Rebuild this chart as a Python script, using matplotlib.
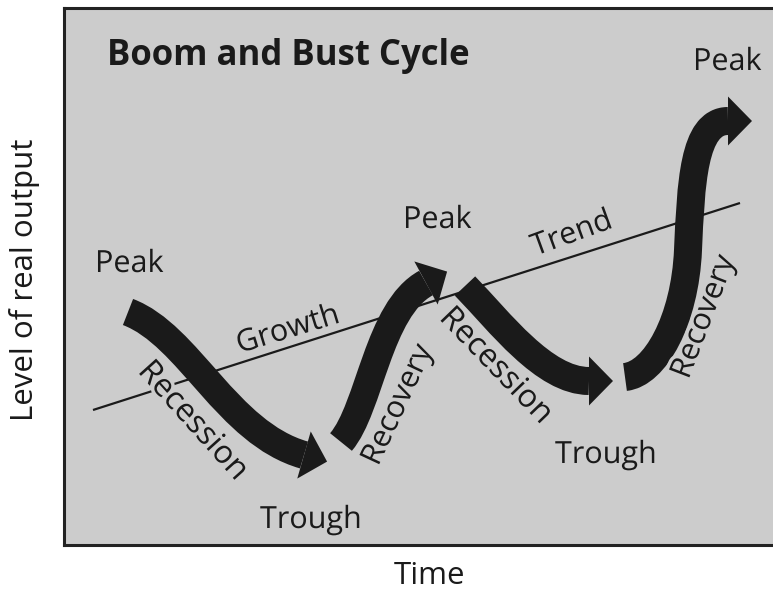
import numpy as np
import matplotlib
matplotlib.use("Agg")
import matplotlib.pyplot as plt
from matplotlib.path import Path
from matplotlib.patches import PathPatch, Polygon
import matplotlib.patheffects as pe

# ---- data (schematic coordinates: x = time, y = level drawn downward) ----
trend_x = [93, 740]
trend_y = [410, 203]

# cubic Bezier control points of each cycle arrow (3n+1 points)
rec1_x = [128, 189, 227, 304]
rec1_y = [312, 335, 433, 455]
recov1_x = [341, 370, 378, 426]
recov1_y = [442, 408, 309, 283]
rec2_x = [465, 500, 544, 589]
rec2_y = [286, 322, 381, 381]
recov2_x = [625, 655, 685, 688, 691, 693, 728]
recov2_y = [377, 374, 320, 250, 185, 121, 121]

arrows = [(rec1_x, rec1_y), (recov1_x, recov1_y), (rec2_x, rec2_y), (recov2_x, recov2_y)]

# labels: text, x, y, rotation, ha, va, size
labels = [
    ("Peak", 95, 272, 0, "left", "baseline", 22),
    ("Peak", 403, 228, 0, "left", "baseline", 22),
    ("Peak", 693, 70, 0, "left", "baseline", 22),
    ("Trough", 260, 528, 0, "left", "baseline", 22),
    ("Trough", 555, 463, 0, "left", "baseline", 22),
    ("Growth", 288, 330, 17, "center", "center", 22),
    ("Trend", 572, 234, 20, "center", "center", 22),
    ("Recession", 193, 421, -48, "center", "center", 23),
    ("Recovery", 398, 405, 65, "center", "center", 22),
    ("Recession", 496, 366, -46, "center", "center", 23),
    ("Recovery", 704, 317, 69, "center", "center", 22),
]

title = "Boom and Bust Cycle"
xlabel = "Time"
ylabel = "Level of real output"

BG = "#cccccc"
INK = "#1a1a1a"
FONT = "Open Sans"

W, H = 773, 593
fig = plt.figure(figsize=(W / 100, H / 100), dpi=100)
left, right, top, bottom = 64, 776, 8, 545
ax = fig.add_axes([left / W, 1 - bottom / H, (right - left) / W, (bottom - top) / H])
ax.set_xlim(left, right)
ax.set_ylim(bottom, top)
ax.set_facecolor(BG)
ax.set_xticks([])
ax.set_yticks([])
for s in ax.spines.values():
    s.set_linewidth(2.2)
    s.set_color("#222222")

# trend line
ax.plot(trend_x, trend_y, color=INK, lw=1.6, solid_capstyle="butt", zorder=2)

shaft_px = 28
head_len = 24
head_w = 49
for xs, ys in arrows:
    verts = list(zip(xs, ys))
    codes = [Path.MOVETO] + [Path.CURVE4] * (len(verts) - 1)
    ax.add_patch(PathPatch(Path(verts, codes), fill=False, ec=INK,
                           lw=shaft_px * 0.72, capstyle="butt", joinstyle="round", zorder=3))
    end = np.array(verts[-1], float)
    prev = np.array(verts[-2], float)
    d = (end - prev) / np.linalg.norm(end - prev)
    n = np.array([-d[1], d[0]])
    tip = end + head_len * d
    c1 = end + head_w / 2 * n
    c2 = end - head_w / 2 * n
    ax.add_patch(Polygon([c1, tip, c2], closed=True, fc=INK, ec="none", zorder=3))

halo = [pe.withStroke(linewidth=5, foreground=BG)]
for txt, x, y, rot, ha, va, fs in labels:
    ax.text(x, y, txt, rotation=rot, ha=ha, va=va, rotation_mode="anchor",
            fontsize=fs, family=FONT, color=INK, zorder=4, path_effects=halo)

ax.text(107, 65, title, ha="left", va="baseline", fontsize=25, fontweight="bold",
        family=FONT, color=INK, zorder=4)

fig.text(430 / W, 1 - 584 / H, xlabel, ha="center", va="baseline", fontsize=22.5,
         family=FONT, color=INK)
fig.text(25 / W, 1 - 280 / H, ylabel, ha="center", va="center", rotation=90,
         fontsize=22.5, family=FONT, color=INK)

fig.savefig("out.png", dpi=100, facecolor="white")
